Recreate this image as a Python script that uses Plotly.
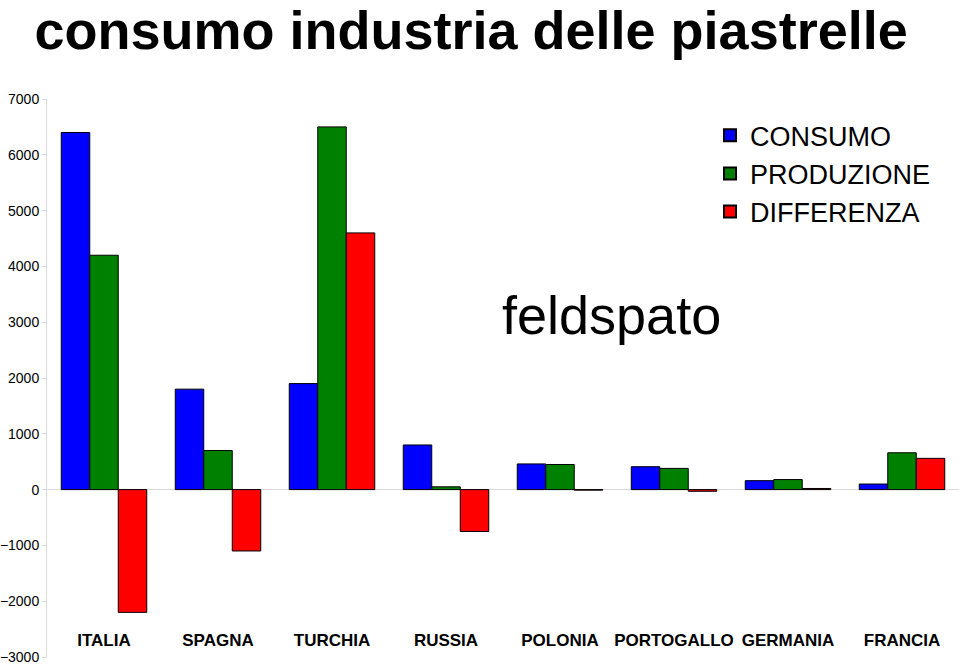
import plotly.graph_objects as go

paesi = ["ITALIA", "SPAGNA", "TURCHIA", "RUSSIA", "POLONIA", "PORTOGALLO", "GERMANIA", "FRANCIA"]
consumo = [6400, 1800, 1900, 800, 460, 410, 160, 100]
produzione = [4200, 700, 6500, 50, 450, 380, 180, 660]
differenza = [-2200, -1100, 4600, -750, -10, -30, 20, 560]

fig = go.Figure()
for nome, valori, colore in [("CONSUMO", consumo, "#0000ff"),
                             ("PRODUZIONE", produzione, "#008000"),
                             ("DIFFERENZA", differenza, "#ff0000")]:
    fig.add_trace(go.Bar(x=paesi, y=valori, name=nome,
                         marker=dict(color=colore, line=dict(color="black", width=1))))

fig.update_layout(
    width=959, height=665,
    paper_bgcolor="white", plot_bgcolor="white",
    barmode="group", bargap=0.25, bargroupgap=0,
    margin=dict(l=45, r=0, t=99, b=8),
    font=dict(family="Arial, Liberation Sans", color="black"),
    title=dict(text="<b>consumo industria delle piastrelle</b>",
               x=0.036, xanchor="left", y=0.954, yanchor="middle",
               font=dict(size=54, color="black")),
    legend=dict(x=0.727, y=0.978, xanchor="left", yanchor="top",
                font=dict(size=27), itemsizing="constant",
                tracegroupgap=0, bgcolor="rgba(0,0,0,0)"),
    showlegend=True,
)

# etichette dei paesi in basso, dentro l'area del grafico
fig.update_xaxes(showgrid=False, showline=False, ticks="",
                 anchor="free", position=0.052,
                 tickfont=dict(size=17, weight="bold", color="black"))
fig.update_yaxes(range=[-3000, 7000], dtick=1000, showgrid=False,
                 showline=True, linecolor="#d9d9d9", linewidth=1,
                 ticks="outside", tickcolor="#d9d9d9", ticklen=4,
                 zeroline=True, zerolinecolor="#d9d9d9", zerolinewidth=1,
                 tickfont=dict(size=14, color="black"))

fig.add_annotation(text="feldspato", x=0.619, y=0.671, xref="paper", yref="paper",
                   showarrow=False, font=dict(size=54, color="black"))

fig.write_html("out.html", config={"displayModeBar": False},
               post_script="document.body.style.margin='0';")
